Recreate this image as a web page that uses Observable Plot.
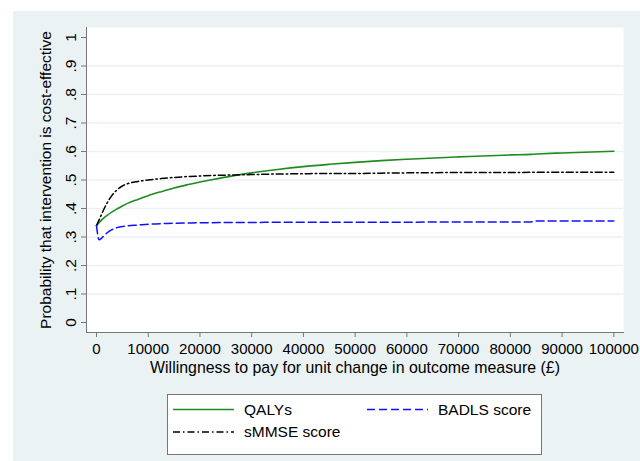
<!DOCTYPE html>
<html><head><meta charset="utf-8">
<script src="https://cdn.jsdelivr.net/npm/d3@7"></script>
<script src="https://cdn.jsdelivr.net/npm/@observablehq/plot@0.6"></script>
<style>
body{margin:0;background:#fff;font-family:"Liberation Sans",Arial,sans-serif;}
#wrap{position:relative;width:640px;height:461px;overflow:hidden;background:#fff;}
#bg{position:absolute;left:13px;top:11px;right:0;bottom:0;background:#eaf2f3;}
#chart{position:absolute;left:0;top:0;}
#legend{position:absolute;left:167px;top:394px;width:375px;height:61px;background:#fff;border:1px solid #777;box-sizing:border-box;}
#legend svg{display:block;}
</style></head><body>
<div id="wrap"><div id="bg"></div><div id="chart"></div><div id="legend"></div></div>
<script>
// Willingness to pay (£)
const wtp = [0, 500, 1000, 1500, 2000, 3000, 4000, 5000, 6000, 8000, 10000, 12500, 15000, 17500, 20000, 22500, 25000, 27500, 30000, 35000, 40000, 45000, 50000, 55000, 60000, 70000, 80000, 84000, 85000, 90000, 100000];
const qalys = [0.34, 0.35, 0.36, 0.368, 0.375, 0.388, 0.399, 0.409, 0.418, 0.432, 0.445, 0.459, 0.472, 0.483, 0.493, 0.502, 0.510, 0.518, 0.525, 0.537, 0.547, 0.555, 0.562, 0.568, 0.573, 0.581, 0.588, 0.590, 0.591, 0.595, 0.601];
const smmse = [0.34, 0.36, 0.38, 0.40, 0.418, 0.446, 0.466, 0.479, 0.487, 0.495, 0.500, 0.505, 0.509, 0.512, 0.514, 0.516, 0.517, 0.518, 0.519, 0.521, 0.522, 0.523, 0.523, 0.524, 0.525, 0.526, 0.526, 0.527, 0.527, 0.527, 0.527];
const badls = [0.34, 0.29, 0.296, 0.306, 0.314, 0.326, 0.333, 0.337, 0.339, 0.342, 0.345, 0.347, 0.348, 0.349, 0.350, 0.350, 0.351, 0.351, 0.351, 0.352, 0.352, 0.352, 0.352, 0.352, 0.352, 0.353, 0.353, 0.353, 0.356, 0.356, 0.356];
const xTicks = [0, 10000, 20000, 30000, 40000, 50000, 60000, 70000, 80000, 90000, 100000];
const yTicks = [0, 0.1, 0.2, 0.3, 0.4, 0.5, 0.6, 0.7, 0.8, 0.9, 1];
const yGrid = [0.1, 0.2, 0.3, 0.4, 0.5, 0.6, 0.7, 0.8, 0.9];
const seriesNames = ["QALYs", "BADLS score", "sMMSE score"];
const xTitle = "Willingness to pay for unit change in outcome measure (£)";
const yTitle = "Probability that intervention is cost-effective";

const rows = (ys) => wtp.map((x, i) => ({x, y: ys[i]}));
const yFmt = d => d === 0 ? "0" : d === 1 ? "1" : d3.format(".1f")(d).replace(/^0/, "");
const font = "Liberation Sans, Arial, sans-serif";
const H = 385;

const chart = Plot.plot({
  width: 640, height: H,
  marginLeft: 86, marginRight: 17, marginTop: 27, marginBottom: H - 332,
  x: {domain: [0, 100000], range: [96, 613.3]},
  y: {domain: [0, 1], range: [322, 37]},
  style: {background: "transparent", fontFamily: font, fontSize: "15px", color: "#000", overflow: "visible"},
  marks: [
    Plot.frame({fill: "white", stroke: null}),
    Plot.gridY(yGrid, {stroke: "#eaf2f3", strokeOpacity: 1, strokeWidth: 1.3}),
    Plot.line(rows(qalys), {x: "x", y: "y", stroke: "#1e8c1e", strokeWidth: 1.6, curve: "monotone-x"}),
    Plot.line(rows(smmse), {x: "x", y: "y", stroke: "#000", strokeWidth: 1.5, strokeDasharray: "7,3,1.5,3", curve: "monotone-x"}),
    Plot.line(rows(badls), {x: "x", y: "y", stroke: "#1010ff", strokeWidth: 1.5, strokeDasharray: "8,4", curve: "monotone-x"}),
    Plot.frame({anchor: "left", stroke: "#777"}),
    Plot.frame({anchor: "bottom", stroke: "#777"}),
    Plot.axisY(yTicks, {anchor: "left", tickFormat: yFmt, tickRotate: -90, tickSize: 5, tickPadding: 6, stroke: "#777", fill: "#000", fontSize: 15.5, label: null}),
    Plot.axisX(xTicks, {anchor: "bottom", tickFormat: d => String(d), tickSize: 5, tickPadding: 6, stroke: "#777", fill: "#000", fontSize: 15, label: null}),
    Plot.text([xTitle], {frameAnchor: "bottom", dy: 40, fontSize: 15.9, fill: "#000"}),
    Plot.text([yTitle], {frameAnchor: "left", rotate: -90, dx: -40, textAnchor: "middle", fontSize: 15.5, fill: "#000"})
  ]
});
document.getElementById("chart").appendChild(chart);

// Legend
const ns = "http://www.w3.org/2000/svg";
const lg = document.createElementNS(ns, "svg");
lg.setAttribute("width", 373); lg.setAttribute("height", 59);
const items = [
  {name: seriesNames[0], x: 5, y: 14.5, stroke: "#1e8c1e", dash: null},
  {name: seriesNames[1], x: 199, y: 14.5, stroke: "#1010ff", dash: "8,4"},
  {name: seriesNames[2], x: 5, y: 37, stroke: "#000", dash: "7,3,1.5,3"}
];
for (const it of items) {
  const l = document.createElementNS(ns, "line");
  l.setAttribute("x1", it.x); l.setAttribute("x2", it.x + 61);
  l.setAttribute("y1", it.y); l.setAttribute("y2", it.y);
  l.setAttribute("stroke", it.stroke); l.setAttribute("stroke-width", 1.6);
  if (it.dash) l.setAttribute("stroke-dasharray", it.dash);
  lg.appendChild(l);
  const t = document.createElementNS(ns, "text");
  t.setAttribute("x", it.x + 71); t.setAttribute("y", it.y);
  t.setAttribute("dy", "0.35em");
  t.setAttribute("font-family", font); t.setAttribute("font-size", 15.5);
  t.textContent = it.name;
  lg.appendChild(t);
}
document.getElementById("legend").appendChild(lg);
</script>
</body></html>
